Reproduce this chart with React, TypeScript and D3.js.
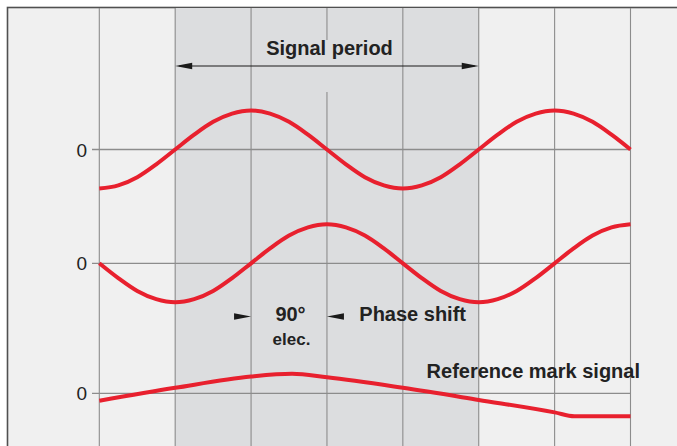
import React from "react";
import * as d3 from "d3";

// ---- data ----
const gridCols = [0, 1, 2, 3, 4, 5, 6, 7];
const sampleX = [
  0, 0.25, 0.5, 0.75, 1, 1.25, 1.5, 1.75, 2, 2.25, 2.5, 2.75, 3, 3.25, 3.5, 3.75,
  4, 4.25, 4.5, 4.75, 5, 5.25, 5.5, 5.75, 6, 6.25, 6.5, 6.75, 7,
];
const signal1 = [
  -1, -0.92, -0.71, -0.38, 0, 0.38, 0.71, 0.92, 1, 0.92, 0.71, 0.38, 0, -0.38, -0.71, -0.92,
  -1, -0.92, -0.71, -0.38, 0, 0.38, 0.71, 0.92, 1, 0.92, 0.71, 0.38, 0,
];
const signal2 = [
  0, -0.38, -0.71, -0.92, -1, -0.92, -0.71, -0.38, 0, 0.38, 0.71, 0.92, 1, 0.92, 0.71, 0.38,
  0, -0.38, -0.71, -0.92, -1, -0.92, -0.71, -0.38, 0, 0.38, 0.71, 0.92, 1,
];
const refX = [0, 1, 2, 2.54, 3, 4, 5, 6, 6.26, 7];
const refMark = [-0.19, 0.14, 0.43, 0.5, 0.41, 0.14, -0.17, -0.49, -0.59, -0.59];
const zeroLabels = ["0", "0", "0"];
const periodStart = 1;
const periodEnd = 5;
const phaseFrom = 2;
const phaseTo = 3;

const W = 677;
const H = 446;
const RED = "#e8202e";
const GRID = "#8c8c8c";
const TEXT = "#222";
const FONT = "'Liberation Sans', Arial, Helvetica, sans-serif";

export default function App() {
  const x = d3.scaleLinear().domain([0, 7]).range([99.3, 630.5]);
  const baselines = [149.5, 263.3, 393.3];
  const yFor = (b: number) => d3.scaleLinear().domain([-1, 1]).range([b + 39, b - 39]);

  const y1 = yFor(baselines[0]);
  const y2 = yFor(baselines[1]);
  const y3 = yFor(baselines[2]);

  const mkLine = (ys: d3.ScaleLinear<number, number>) =>
    d3
      .line<[number, number]>()
      .x((d) => x(d[0]))
      .y((d) => ys(d[1]))
      .curve(d3.curveMonotoneX);

  const p1 = mkLine(y1)(sampleX.map((v, i) => [v, signal1[i]] as [number, number])) || "";
  const p2 = mkLine(y2)(sampleX.map((v, i) => [v, signal2[i]] as [number, number])) || "";
  const p3 = mkLine(y3)(refX.map((v, i) => [v, refMark[i]] as [number, number])) || "";

  const top = 8;
  const xs = x(periodStart);
  const xe = x(periodEnd);
  const arrowY = 66;
  const phY = 316.5;
  const ah = 17;
  const aw = 3.2;

  return (
    <svg
      width={W}
      height={H}
      style={{ position: "absolute", left: 0, top: 0, display: "block" }}
    >
      <rect x={0} y={0} width={W} height={H} fill="#fff" />
      <rect x={7.5} y={7.5} width={W + 10} height={H + 10} fill="#f0f0f0" stroke="#505050" strokeWidth={1.6} />
      <rect x={xs} y={top} width={xe - xs} height={H - top} fill="#dcdddf" />

      {/* vertical grid */}
      {gridCols.map((c) =>
        c === 3 ? (
          <g key={c}>
            <line x1={x(c)} x2={x(c)} y1={top} y2={40} stroke={GRID} strokeWidth={1.1} />
            <line x1={x(c)} x2={x(c)} y1={92} y2={H} stroke={GRID} strokeWidth={1.1} />
          </g>
        ) : (
          <line key={c} x1={x(c)} x2={x(c)} y1={top} y2={H} stroke={GRID} strokeWidth={1.1} />
        )
      )}

      {/* zero lines and labels */}
      {baselines.map((b, i) => (
        <g key={i}>
          <line x1={92} x2={x(7)} y1={b} y2={b} stroke={GRID} strokeWidth={1.3} />
          <text
            x={87}
            y={b + 7}
            textAnchor="end"
            fontFamily={FONT}
            fontSize={19}
            fill={TEXT}
          >
            {zeroLabels[i]}
          </text>
        </g>
      ))}

      {/* signal period arrow */}
      <line x1={xs + 4} x2={xe - 4} y1={arrowY} y2={arrowY} stroke="#1a1a1a" strokeWidth={1.1} />
      <path d={`M${xs},${arrowY} L${xs + ah},${arrowY - aw} L${xs + ah},${arrowY + aw} Z`} fill="#1a1a1a" />
      <path d={`M${xe},${arrowY} L${xe - ah},${arrowY - aw} L${xe - ah},${arrowY + aw} Z`} fill="#1a1a1a" />
      <text x={329.5} y={55} textAnchor="middle" fontFamily={FONT} fontWeight="bold" fontSize={20} fill={TEXT}>
        Signal period
      </text>

      {/* curves */}
      <path d={p1} fill="none" stroke={RED} strokeWidth={4} />
      <path d={p2} fill="none" stroke={RED} strokeWidth={4} />
      <path d={p3} fill="none" stroke={RED} strokeWidth={4} />

      {/* phase shift */}
      <path
        d={`M${x(phaseFrom)},${phY} L${x(phaseFrom) - ah},${phY - aw} L${x(phaseFrom) - ah},${phY + aw} Z`}
        fill="#1a1a1a"
      />
      <path
        d={`M${x(phaseTo)},${phY} L${x(phaseTo) + ah},${phY - aw} L${x(phaseTo) + ah},${phY + aw} Z`}
        fill="#1a1a1a"
      />
      <text x={290.5} y={320.7} textAnchor="middle" fontFamily={FONT} fontWeight="bold" fontSize={20} fill={TEXT}>
        90°
      </text>
      <text x={291.5} y={345} textAnchor="middle" fontFamily={FONT} fontWeight="bold" fontSize={17} fill={TEXT}>
        elec.
      </text>
      <text x={359.3} y={320.7} fontFamily={FONT} fontWeight="bold" fontSize={20} fill={TEXT}>
        Phase shift
      </text>
      <text x={640} y={378.3} textAnchor="end" fontFamily={FONT} fontWeight="bold" fontSize={20} fill={TEXT}>
        Reference mark signal
      </text>
    </svg>
  );
}
